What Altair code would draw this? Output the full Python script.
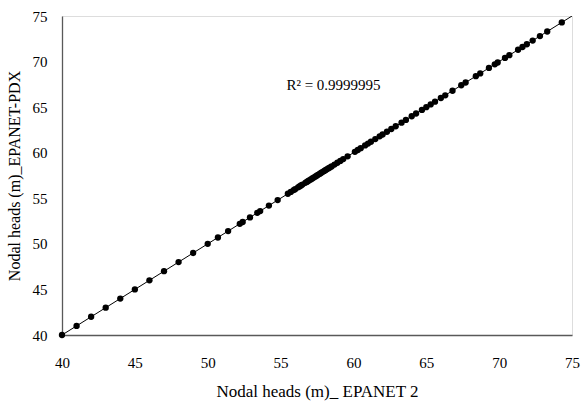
import altair as alt
import pandas as pd

# Nodal heads
epanet2 = [40, 41, 42, 43, 44, 45, 46, 47, 48, 49, 50, 50.7, 51.4, 52.2, 52.4, 52.9,
           53.4, 53.6, 54.2, 54.8, 55.5, 55.7, 55.9, 56.0, 56.2, 56.3, 56.4, 56.5, 56.7,
           56.8, 56.9, 57.0, 57.1, 57.2, 57.3, 57.4, 57.5, 57.6, 57.7, 57.8, 57.9, 58.0,
           58.1, 58.2, 58.3, 58.4, 58.5, 58.7, 58.9, 59.1, 59.3, 59.6,
           60.1, 60.3, 60.5, 60.8, 61.0, 61.2, 61.5, 61.8, 62.0, 62.3, 62.6, 62.9, 63.3,
           63.6, 64.0, 64.3, 64.7, 65.0, 65.3, 65.6, 66.0, 66.3, 66.8, 67.4, 67.7, 68.4,
           68.7, 69.3, 69.7, 69.9, 70.4, 70.7, 71.3, 71.6, 71.9, 72.3, 72.8, 73.3, 74.3]
pdx = [40, 41, 42, 43, 44, 45, 46, 47, 48, 49, 50, 50.7, 51.4, 52.2, 52.4, 52.9,
       53.4, 53.6, 54.2, 54.8, 55.5, 55.7, 55.9, 56.0, 56.2, 56.3, 56.4, 56.5, 56.7,
       56.8, 56.9, 57.0, 57.1, 57.2, 57.3, 57.4, 57.5, 57.6, 57.7, 57.8, 57.9, 58.0,
       58.1, 58.2, 58.3, 58.4, 58.5, 58.7, 58.9, 59.1, 59.3, 59.6,
       60.1, 60.3, 60.5, 60.8, 61.0, 61.2, 61.5, 61.8, 62.0, 62.3, 62.6, 62.9, 63.3,
       63.6, 64.0, 64.3, 64.7, 65.0, 65.3, 65.6, 66.0, 66.3, 66.8, 67.4, 67.7, 68.4,
       68.7, 69.3, 69.7, 69.9, 70.4, 70.7, 71.3, 71.6, 71.9, 72.3, 72.8, 73.3, 74.3]
fit_x = [40, 75]
fit_y = [40, 75]
r2_label = ["R² = 0.9999995"]
tick_values = [40, 45, 50, 55, 60, 65, 70, 75]

df = pd.DataFrame({"x": epanet2, "y": pdx})
fit = pd.DataFrame({"x": fit_x, "y": fit_y})
lab = pd.DataFrame({"t": r2_label, "x": [55.4], "y": [67.4]})

FONT = "Liberation Serif, Times New Roman, serif"
xs = alt.Scale(domain=[40, 75], nice=False, zero=False)
ys = alt.Scale(domain=[40, 75], nice=False, zero=False)

xaxis = alt.Axis(title="Nodal heads (m)_ EPANET 2", values=tick_values, labelFlush=False,
                 grid=False, ticks=False, labelFont=FONT, labelFontSize=15, labelColor="black",
                 labelPadding=20, titleFont=FONT, titleFontSize=17, titleFontWeight="normal",
                 titleColor="black", titlePadding=13, domainColor="#595959", domainWidth=1.3)
yaxis = alt.Axis(title="Nodal heads (m)_EPANET-PDX", values=tick_values, labelFlush=False,
                 grid=False, ticks=False, labelFont=FONT, labelFontSize=15, labelColor="black",
                 labelPadding=15, titleFont=FONT, titleFontSize=16, titleFontWeight="normal",
                 titleColor="black", titlePadding=10, domainColor="#595959", domainWidth=1.3)

line = alt.Chart(fit).mark_line(color="black", strokeWidth=1, clip=True).encode(
    x=alt.X("x:Q", scale=xs, axis=xaxis), y=alt.Y("y:Q", scale=ys, axis=yaxis))
pts = alt.Chart(df).mark_circle(color="black", opacity=1, size=40).encode(
    x=alt.X("x:Q", scale=xs), y=alt.Y("y:Q", scale=ys))
txt = alt.Chart(lab).mark_text(align="left", baseline="middle", font=FONT, fontSize=15,
                               color="black").encode(
    x=alt.X("x:Q", scale=xs), y=alt.Y("y:Q", scale=ys), text="t:N")

chart = (line + pts + txt).properties(
    width=510, height=319,
    autosize=alt.AutoSizeParams(type="none"),
    padding={"left": 62, "top": 16, "right": 16, "bottom": 68},
).configure_view(stroke="#a6a6a6", strokeWidth=1).configure(background="white")

chart.save("out.html", embed_options={"renderer": "svg", "actions": False})
